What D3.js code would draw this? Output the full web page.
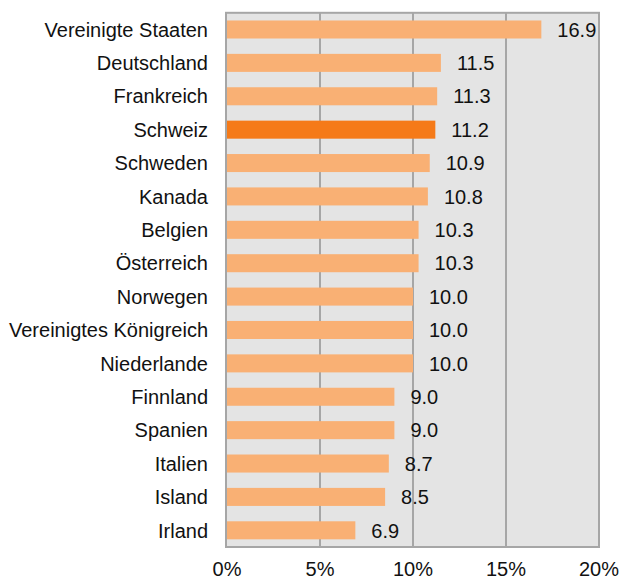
<!DOCTYPE html>
<html lang="de">
  <head>
    <meta charset="UTF-8" />
    <title>Bar Chart</title>
    <style>
      body { margin: 0; background: #fff; }
      text {
        font-family: "Liberation Sans", Arial, sans-serif;
        font-size: 20px;
        fill: #111;
      }
      .plot-bg { fill: #e4e4e4; stroke: #a6a6a6; stroke-width: 2px; }
      .grid line { stroke: #a6a6a6; stroke-width: 2px; }
      .bar { fill: #f9b074; }
      .bar.highlight { fill: #f57a18; }
    </style>
  </head>
  <body>
    <script src="https://cdn.jsdelivr.net/npm/d3@7"></script>
    <script>

      var countries = ["Vereinigte Staaten", "Deutschland", "Frankreich", "Schweiz", "Schweden",
                       "Kanada", "Belgien", "Österreich", "Norwegen", "Vereinigtes Königreich",
                       "Niederlande", "Finnland", "Spanien", "Italien", "Island", "Irland"];
      var values = [16.9, 11.5, 11.3, 11.2, 10.9, 10.8, 10.3, 10.3, 10.0, 10.0, 10.0, 9.0, 9.0, 8.7, 8.5, 6.9];
      var highlighted = "Schweiz";
      var xTicks = [0, 5, 10, 15, 20];

      var w = 622, h = 579;
      var margin = { top: 12.8, right: 23, bottom: 32, left: 227 };
      var innerW = w - margin.left - margin.right,
          innerH = h - margin.top - margin.bottom;

      var data = countries.map(function(c, i) { return { name: c, value: values[i] }; });

      var svg = d3.select("body").append("svg")
        .attr("width", w)
        .attr("height", h);

      var g = svg.append("g")
        .attr("transform", "translate(" + margin.left + "," + margin.top + ")");

      var xScale = d3.scaleLinear().domain([0, 20]).range([0, innerW]);
      var yScale = d3.scaleBand().domain(countries).range([0, innerH]).paddingInner(0.46).paddingOuter(0.23);

      g.append("rect")
        .attr("class", "plot-bg")
        .attr("x", -1)
        .attr("y", 0)
        .attr("width", innerW + 1)
        .attr("height", innerH);

      g.append("g")
        .attr("class", "grid")
        .selectAll("line")
        .data(xTicks.slice(1, -1))
        .enter()
        .append("line")
        .attr("x1", function(d) { return xScale(d); })
        .attr("x2", function(d) { return xScale(d); })
        .attr("y1", 0)
        .attr("y2", innerH);

      g.selectAll(".bar")
        .data(data)
        .enter()
        .append("rect")
        .attr("class", function(d) { return d.name === highlighted ? "bar highlight" : "bar"; })
        .attr("x", 0)
        .attr("y", function(d) { return yScale(d.name); })
        .attr("width", function(d) { return xScale(d.value); })
        .attr("height", yScale.bandwidth());

      // value labels
      g.selectAll(".val")
        .data(data)
        .enter()
        .append("text")
        .attr("class", "val")
        .attr("x", function(d) { return xScale(d.value) + 16; })
        .attr("y", function(d) { return yScale(d.name) + yScale.bandwidth() / 2; })
        .attr("dy", "0.36em")
        .text(function(d) { return d.value.toFixed(1); });

      // category labels
      g.selectAll(".cat")
        .data(data)
        .enter()
        .append("text")
        .attr("class", "cat")
        .attr("x", -19)
        .attr("y", function(d) { return yScale(d.name) + yScale.bandwidth() / 2; })
        .attr("dy", "0.36em")
        .attr("text-anchor", "end")
        .text(function(d) { return d.name; });

      // x tick labels
      g.selectAll(".tick-label")
        .data(xTicks)
        .enter()
        .append("text")
        .attr("class", "tick-label")
        .attr("x", function(d) { return xScale(d); })
        .attr("y", innerH + 21.5)
        .attr("dy", "0.36em")
        .attr("text-anchor", "middle")
        .text(function(d) { return d + "%"; });

    </script>
  </body>
</html>
